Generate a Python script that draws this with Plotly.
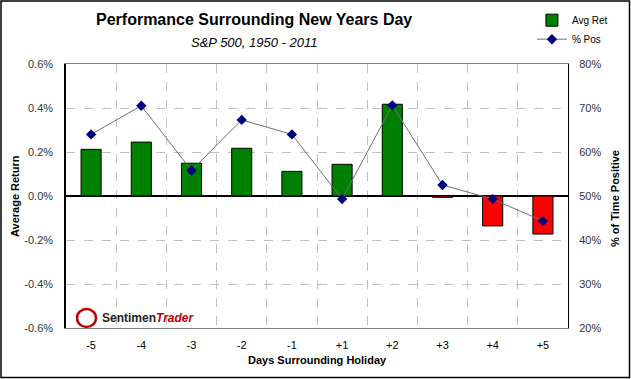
import plotly.graph_objects as go

categories = ["-5", "-4", "-3", "-2", "-1", "+1", "+2", "+3", "+4", "+5"]
avg_ret = [0.212, 0.245, 0.149, 0.217, 0.112, 0.144, 0.417, -0.006, -0.136, -0.173]
pct_pos = [64.0, 70.5, 55.8, 67.3, 64.0, 49.3, 70.6, 52.5, 49.3, 44.3]
left_ticks = [-0.6, -0.4, -0.2, 0.0, 0.2, 0.4, 0.6]
right_ticks = [20, 30, 40, 50, 60, 70, 80]

xs = list(range(len(categories)))
bar_colors = ["#008000" if v >= 0 else "#FF0000" for v in avg_ret]
FONT = "Liberation Sans, Arial, sans-serif"
CLEAR = "rgba(0,0,0,0)"

L, R, T, B = 66, 63, 64, 51
PW, PH = 631 - L - R, 379 - T - B


def px(x):
    return (x - L) / PW


def py(y):
    return (379 - B - y) / PH


fig = go.Figure()
fig.add_trace(go.Bar(
    x=xs, y=avg_ret, name="Avg Ret", width=0.4,
    marker=dict(color=bar_colors, line=dict(color="black", width=1)),
    yaxis="y",
))
fig.add_trace(go.Scatter(
    x=xs, y=pct_pos, name="% Pos", mode="lines+markers",
    line=dict(color="#707070", width=1),
    marker=dict(symbol="diamond", size=8, color="#000080"),
    yaxis="y2",
))

fig.update_layout(
    width=631, height=379,
    margin=dict(l=L, r=R, t=T, b=B, autoexpand=False),
    paper_bgcolor="white", plot_bgcolor="white",
    font=dict(family=FONT, size=11, color="black"),
    showlegend=True,
    legend=dict(xref="container", yref="container", x=0.843, y=0.985,
                xanchor="left", yanchor="top",
                bgcolor=CLEAR, font=dict(size=10), itemwidth=30,
                tracegroupgap=2),
    xaxis=dict(
        range=[-0.5, len(categories) - 0.5],
        tickvals=xs, ticktext=categories, showgrid=False,
        ticks="outside", ticklen=7, tickcolor=CLEAR,
        showline=True, linecolor="#808080", mirror=True, zeroline=False,
        minor=dict(tickvals=[i + 0.5 for i in xs[:-1]], showgrid=True,
                   gridcolor="#C0C0C0", griddash="dash", gridwidth=1),
        tickfont=dict(size=11),
    ),
    yaxis=dict(
        range=[-0.6, 0.6], tickvals=left_ticks,
        ticktext=[f"{v:.1f}%" for v in left_ticks],
        ticks="outside", ticklen=9, tickcolor=CLEAR,
        showgrid=True, gridcolor="#C0C0C0", griddash="dash",
        zeroline=True, zerolinecolor="black", zerolinewidth=1.5,
        showline=True, linecolor="black", linewidth=1.5,
        tickfont=dict(size=11, color="#333333"),
    ),
    yaxis2=dict(
        range=[20, 80], tickvals=right_ticks,
        ticktext=[f"{v}%" for v in right_ticks],
        ticks="outside", ticklen=8, tickcolor=CLEAR,
        overlaying="y", side="right", showgrid=False, zeroline=False,
        showline=True, linecolor="black", linewidth=1,
        tickfont=dict(size=11, color="#333333"),
    ),
    bargap=0.6,
)

# Axis titles
fig.add_annotation(text="<b>Average Return</b>", xref="paper", yref="paper",
                   x=px(15), y=py(196), textangle=-90, showarrow=False,
                   font=dict(size=11, family=FONT, color="black"),
                   xanchor="center", yanchor="middle")
fig.add_annotation(text="<b>% of Time Positive</b>", xref="paper", yref="paper",
                   x=px(615), y=py(199), textangle=-90, showarrow=False,
                   font=dict(size=11, family=FONT, color="black"),
                   xanchor="center", yanchor="middle")
fig.add_annotation(text="<b>Days Surrounding Holiday</b>", xref="paper", yref="paper",
                   x=px(317), y=py(360), showarrow=False,
                   font=dict(size=11, family=FONT, color="black"),
                   xanchor="center", yanchor="middle")

# Titles
fig.add_annotation(text="<b>Performance Surrounding New Years Day</b>",
                   xref="paper", yref="paper", x=px(254), y=py(20),
                   showarrow=False, font=dict(size=16, family=FONT, color="black"),
                   xanchor="center", yanchor="middle")
fig.add_annotation(text="<i>S&P 500, 1950 - 2011</i>",
                   xref="paper", yref="paper", x=px(254), y=py(42),
                   showarrow=False, font=dict(size=13, family=FONT, color="black"),
                   xanchor="center", yanchor="middle")
# Watermark
fig.add_annotation(text="<b>Sentimen</b><b><i><span style='color:#C00000'>Trader</span></i></b>",
                   xref="paper", yref="paper", x=px(100), y=py(318),
                   showarrow=False, font=dict(size=12, family=FONT, color="#222222"),
                   xanchor="left", yanchor="middle")
fig.add_shape(type="circle", xref="paper", yref="paper",
              x0=px(77), x1=px(96), y0=py(327), y1=py(309),
              line=dict(color="#C00000", width=2.5), fillcolor="white")

# Outer frame
fig.add_shape(type="rect", xref="paper", yref="paper",
              x0=px(1), x1=px(629.5), y0=py(377.5), y1=py(1),
              line=dict(color="black", width=1.5), fillcolor=CLEAR)

fig.write_html("out.html", config={"displayModeBar": False},
               post_script="document.body.style.margin='0px';")
